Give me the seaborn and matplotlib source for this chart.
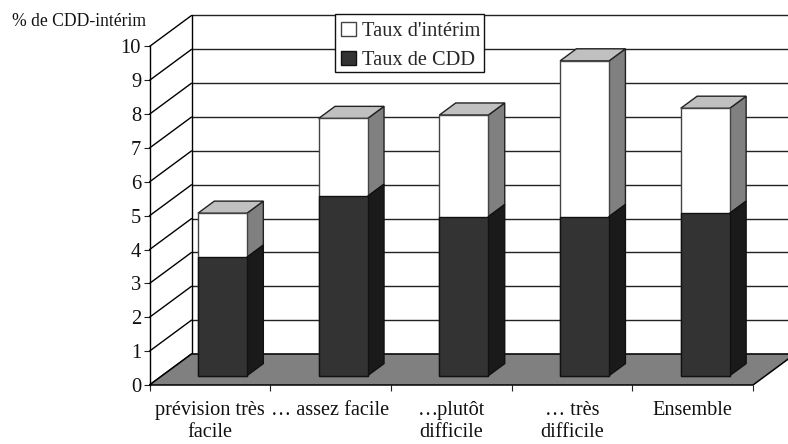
import matplotlib
matplotlib.use("Agg")
import matplotlib.pyplot as plt
import seaborn as sns
import numpy as np
from matplotlib.patches import Polygon, Rectangle

categories = ["prévision très\nfacile", "… assez facile", "…plutôt\ndifficile", "… très\ndifficile", "Ensemble"]
taux_cdd = [3.5, 5.3, 4.7, 4.7, 4.8]
taux_interim = [1.3, 2.3, 3.0, 4.6, 3.1]
y_ticks = list(range(0, 11))

sns.set_style("white")
plt.rcParams["font.family"] = ["Liberation Serif", "DejaVu Serif"]

W, H = 788, 444
fig = plt.figure(figsize=(W / 100, H / 100), dpi=100)
L, R, T, B = 149.5, 753.0, 46.5, 385.0
ax = fig.add_axes([L / W, 1 - B / H, (R - L) / W, (B - T) / H])

# Oblique projection of the pseudo-3D chart, in data units
DX, DY = 42 / ((R - L) / 5), 31 / ((B - T) / 10)
BAR_D0, BAR_D1 = 0.30, 0.69
BAR_W = 49 / ((R - L) / 5)

def proj(x, y, d):
    return (x + d * DX, y + d * DY)

totals = np.array(taux_cdd) + np.array(taux_interim)
sns.barplot(x=categories, y=totals, color="white", saturation=1, width=BAR_W,
            edgecolor="#444444", linewidth=1.0, ax=ax, zorder=5, label="Taux d'intérim")
sns.barplot(x=categories, y=taux_cdd, color="#333333", saturation=1, width=BAR_W,
            edgecolor="#111111", linewidth=1.0, ax=ax, zorder=6, label="Taux de CDD")
ax.set_xlim(-0.5, 4.5)
ax.set_ylim(0, 10)

for p in ax.patches:
    p.set_x(p.get_x() + BAR_D0 * DX)
    p.set_y(p.get_y() + BAR_D0 * DY)
    p.set_clip_on(False)

def poly(pts, fc, z, ec="#111111", lw=1.0):
    ax.add_patch(Polygon(pts, closed=True, facecolor=fc, edgecolor=ec, linewidth=lw,
                         zorder=z, clip_on=False))

# Floor
xl, xr = -0.5, 4.5
poly([proj(xl, 0, 0), proj(xl, 0, 1), proj(xr, 0, 1), proj(xr, 0, 0)], "#808080", 3, ec="black", lw=1.1)

# Back wall and side wall lines
for v in y_ticks:
    ax.plot(*zip(proj(xl, v, 1), proj(xr, v, 1)), color="#222222", lw=1.0, zorder=1, clip_on=False)
    ax.plot(*zip(proj(xl, v, 0), proj(xl, v, 1)), color="black", lw=1.0, zorder=2, clip_on=False)
ax.plot(*zip(proj(xl, 0, 1), proj(xl, 10, 1)), color="black", lw=1.0, zorder=2, clip_on=False)

# Side and top faces of the bars
for i, (c, t) in enumerate(zip(taux_cdd, totals)):
    x0, x1 = i - BAR_W / 2, i + BAR_W / 2
    poly([proj(x1, 0, BAR_D0), proj(x1, c, BAR_D0), proj(x1, c, BAR_D1), proj(x1, 0, BAR_D1)], "#1a1a1a", 5)
    poly([proj(x1, c, BAR_D0), proj(x1, t, BAR_D0), proj(x1, t, BAR_D1), proj(x1, c, BAR_D1)], "#808080", 4.5, ec="#222222")
    poly([proj(x0, t, BAR_D0), proj(x1, t, BAR_D0), proj(x1, t, BAR_D1), proj(x0, t, BAR_D1)], "#c0c0c0", 4.5, ec="#222222")

# Axes
sns.despine(ax=ax, top=True, right=True, bottom=True)
ax.spines["left"].set_color("black")
ax.spines["left"].set_linewidth(1.0)
ax.set_yticks(y_ticks)
ax.set_yticklabels([str(v) for v in y_ticks], fontsize=14.8)
ax.tick_params(axis="y", left=True, length=4.5, width=0.8, pad=1.5, color="#222222", labelcolor="#111111")
ax.set_xticks(np.arange(-0.5, 5.0, 1.0))
ax.set_xticklabels([""] * 6)
ax.set_xticks(np.arange(5), labels=categories, minor=True)
ax.tick_params(axis="x", which="major", bottom=True, length=4.5, width=0.8, color="#222222")
ax.tick_params(axis="x", which="minor", bottom=False, length=0, pad=11.5, labelsize=14.6, labelcolor="#111111")
for lab in ax.get_xticklabels(minor=True):
    lab.set_linespacing(1.22)

fig.text(12 / W, 1 - 22 / H, "% de CDD-intérim", fontsize=12.7, va="center", ha="left", color="#111111")

# Legend: frame drawn separately so the rows can sit as in the reference
ax.add_patch(Rectangle((335 / W, 1 - 72 / H), 149 / W, 58 / H, transform=fig.transFigure,
                       facecolor="white", edgecolor="#111111", linewidth=1.0, zorder=19, clip_on=False))
handles = [ax.containers[0].patches[0], ax.containers[1].patches[0]]
leg = ax.legend(handles, ["Taux d'intérim", "Taux de CDD"], loc="upper left",
                bbox_to_anchor=((336.5 - L) / (R - L), (B - 17) / (B - T)), bbox_transform=ax.transAxes,
                fontsize=14.7, frameon=False, handlelength=0.7, handleheight=0.7, handletextpad=0.3,
                borderpad=0.24, labelspacing=0.46, borderaxespad=0)
leg.set_zorder(20)

fig.savefig("out.png", dpi=100)
